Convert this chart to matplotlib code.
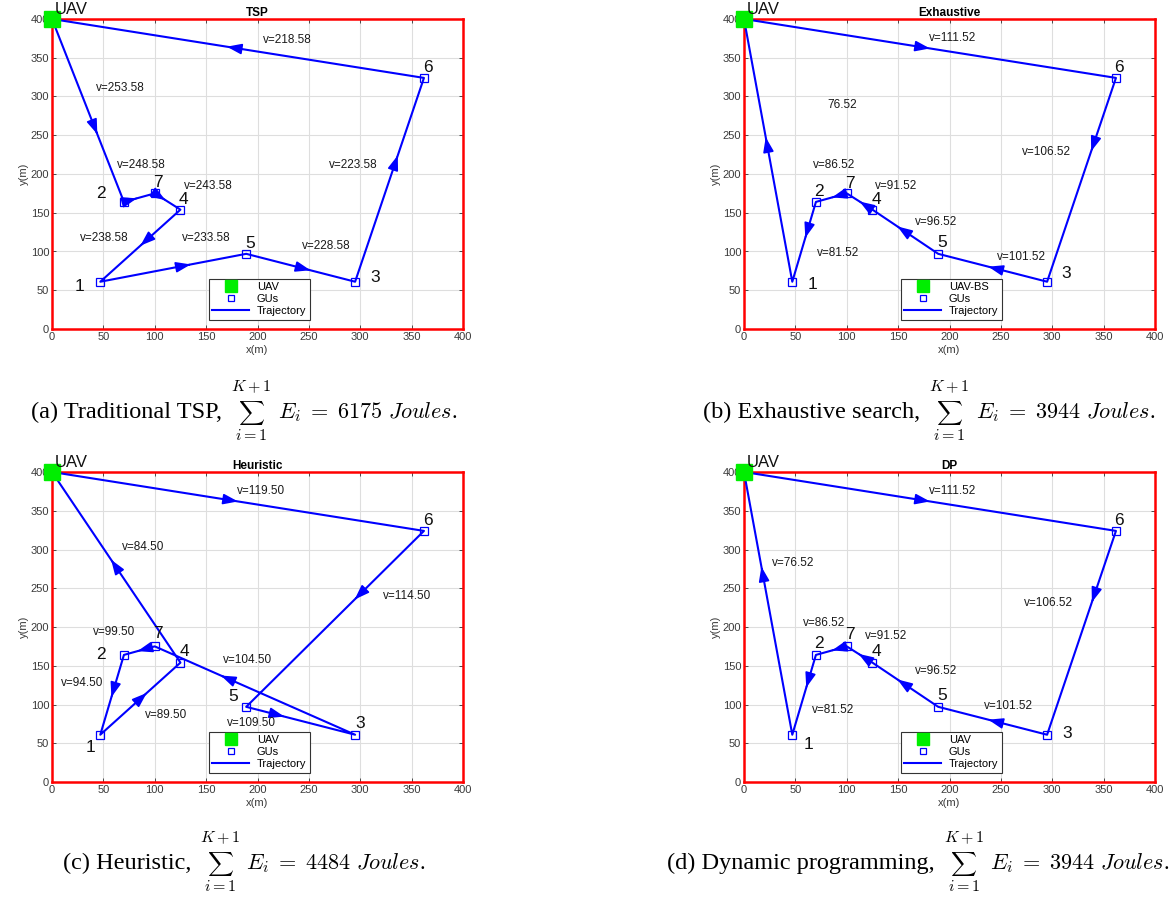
import numpy as np
import matplotlib
matplotlib.use("Agg")
import matplotlib.pyplot as plt

plt.rcParams["font.family"] = ["Liberation Sans", "DejaVu Sans"]
plt.rcParams["mathtext.fontset"] = "cm"

# ground users (GU id 1..7) and the UAV start/end point
gu_ids = [1, 2, 3, 4, 5, 6, 7]
gu_x = [47, 70, 295, 125, 189, 362, 100]
gu_y = [61, 164, 61, 154, 97, 324, 175]
uav_x, uav_y = 0, 400

# visiting orders (0 = UAV) and the speed on each leg
titles = ["TSP", "Exhaustive", "Heuristic", "DP"]
routes = [
    [0, 2, 7, 4, 1, 5, 3, 6, 0],
    [0, 6, 3, 5, 4, 7, 2, 1, 0],
    [0, 6, 5, 3, 7, 2, 1, 4, 0],
    [0, 6, 3, 5, 4, 7, 2, 1, 0],
]
speeds = [
    [253.58, 248.58, 243.58, 238.58, 233.58, 228.58, 223.58, 218.58],
    [111.52, 106.52, 101.52, 96.52, 91.52, 86.52, 81.52, 76.52],
    [119.50, 114.50, 109.50, 104.50, 99.50, 94.50, 89.50, 84.50],
    [111.52, 106.52, 101.52, 96.52, 91.52, 86.52, 81.52, 76.52],
]
uav_legend = ["UAV", "UAV-BS", "UAV", "UAV"]
energy = [6175, 3944, 4484, 3944]
methods = ["(a) Traditional TSP", "(b) Exhaustive search", "(c) Heuristic",
           "(d) Dynamic programming"]

# ---- annotation placement (data coordinates) ----
speed_label_pos = [
    [(43, 311), (63, 212), (128, 184), (27, 118), (126, 117), (243, 107), (270, 212), (205, 373)],
    [(180, 376), (271, 229), (246, 93), (166, 138), (127, 185), (67, 212), (71, 98), (81, 289)],
    [(180, 375), (322, 240), (170, 76), (166, 157), (40, 194), (9, 128), (90, 86), (68, 303)],
    [(180, 375), (272, 231), (234, 98), (166, 143), (118, 188), (57, 205), (66, 93), (27, 282)],
]
bare_speed_label = [set(), {7}, set(), set()]
id_label_pos = [
    {1: (27, 55), 2: (48, 175), 3: (315, 67), 4: (128, 167), 5: (193, 110), 6: (366, 337), 7: (103, 189)},
    {1: (67, 57), 2: (73, 177), 3: (314, 71), 4: (129, 167), 5: (193, 111), 6: (365, 337), 7: (103, 188)},
    {1: (37, 45), 2: (48, 165), 3: (300, 75), 4: (129, 168), 5: (176, 110), 6: (366, 338), 7: (103, 191)},
    {1: (63, 48), 2: (73, 179), 3: (315, 63), 4: (129, 168), 5: (193, 112), 6: (365, 338), 7: (103, 190)},
]
arrow_frac = [
    [0.63, 0.42, 0.42, 0.50, 0.62, 0.59, 0.62, 0.53],
    [0.50, 0.36, 0.54, 0.62, 0.50, 0.48, 0.45, 0.55],
    [0.50, 0.39, 0.35, 0.67, 0.56, 0.53, 0.58, 0.54],
    [0.50, 0.35, 0.54, 0.62, 0.54, 0.48, 0.41, 0.64],
]

W, H = 1173, 897
fig = plt.figure(figsize=(W / 100, H / 100), dpi=100)

axes_px = [(52, 19), (744, 19), (52, 472), (744, 472)]  # (left, top) in pixels
ax_w, ax_h = 411, 310
caption_cx = [244, 929, 244, 918]
caption_base = [418, 418, 869, 869]

BLUE = "#0000ff"
SERIF = ["Liberation Serif", "DejaVu Serif"]


def node_xy(n):
    if n == 0:
        return uav_x, uav_y
    i = gu_ids.index(n)
    return gu_x[i], gu_y[i]


def fx(px):
    return px / W


def fy(py):
    return 1 - py / H


def draw_caption(k, renderer):
    """Caption: text, a summation with limits above/below, then the energy."""
    t1 = fig.text(0, 0, methods[k] + ",", fontsize=17.5, family=SERIF,
                  ha="left", va="baseline")
    ts = fig.text(0, 0, r"$\sum$", fontsize=13, ha="center", va="center")
    tu = fig.text(0, 0, r"$K+1$", fontsize=11.5, ha="center", va="center")
    tl = fig.text(0, 0, r"$i=1$", fontsize=11.5, ha="center", va="center")
    t3 = fig.text(0, 0, r"$E_i\;=\;" + f"{energy[k]}" + r"\ Joules$.",
                  fontsize=16, family=SERIF, ha="left", va="baseline")
    wid = [t.get_window_extent(renderer).width for t in (t1, ts, tu, tl, t3)]
    block = max(wid[1:4])
    gap1, gap2 = 9, 6
    total = wid[0] + gap1 + block + gap2 + wid[4]
    x0 = caption_cx[k] - total / 2
    base = caption_base[k]
    xs = x0 + wid[0] + gap1 + block / 2
    t1.set_position((fx(x0), fy(base)))
    ts.set_position((fx(xs), fy(base - 5)))
    tu.set_position((fx(xs), fy(base - 31)))
    tl.set_position((fx(xs), fy(base + 17)))
    t3.set_position((fx(x0 + wid[0] + gap1 + block + gap2), fy(base)))


for k in range(4):
    left, top = axes_px[k]
    ax = fig.add_axes([left / W, 1 - (top + ax_h) / H, ax_w / W, ax_h / H])
    ax.set_xlim(0, 400)
    ax.set_ylim(0, 400)
    ax.set_xticks(np.arange(0, 401, 50))
    ax.set_yticks(np.arange(0, 401, 50))
    ax.grid(True, color="#dedede", lw=0.8)
    ax.set_axisbelow(True)
    for s in ax.spines.values():
        s.set_color("#ff0000")
        s.set_linewidth(1.8)
    ax.tick_params(direction="in", top=True, right=True, length=3, width=0.6,
                   color="#333333", labelsize=8, labelcolor="#3a3a3a", pad=2)
    ax.set_xlabel("x(m)", fontsize=8, color="#3a3a3a", labelpad=2)
    ax.set_ylabel("y(m)", fontsize=8, color="#3a3a3a", labelpad=1)
    ax.set_title(titles[k], fontsize=8.5, fontweight="bold", pad=2)

    # trajectory
    xs = [node_xy(n)[0] for n in routes[k]]
    ys = [node_xy(n)[1] for n in routes[k]]
    traj, = ax.plot(xs, ys, color=BLUE, lw=1.5, zorder=3, label="Trajectory")

    # direction arrows and speed labels
    for j in range(len(routes[k]) - 1):
        x0, y0 = xs[j], ys[j]
        x1, y1 = xs[j + 1], ys[j + 1]
        t = arrow_frac[k][j]
        xa, ya = x0 + t * (x1 - x0), y0 + t * (y1 - y0)
        e = 0.01
        ax.annotate("", xy=(xa, ya), xytext=(xa - e * (x1 - x0), ya - e * (y1 - y0)),
                    arrowprops=dict(arrowstyle="-|>,head_length=0.9,head_width=0.32",
                                    color=BLUE, lw=1.2, shrinkA=0, shrinkB=0,
                                    mutation_scale=10), zorder=4)
        v = speeds[k][j]
        txt = f"{v:.2f}" if j in bare_speed_label[k] else f"v={v:.2f}"
        lx, ly = speed_label_pos[k][j]
        ax.text(lx, ly, txt, fontsize=8.5, ha="left", va="center", color="#1a1a1a", zorder=5)

    # ground users
    gus, = ax.plot(gu_x, gu_y, ls="none", marker="s", ms=6, mfc="none", mec=BLUE,
                   mew=0.9, zorder=5, label="GUs")
    for n, (lx, ly) in id_label_pos[k].items():
        ax.text(lx, ly, str(n), fontsize=12.5, ha="center", va="center", color="#111111", zorder=6)

    # UAV
    uav, = ax.plot([uav_x], [uav_y], ls="none", marker="s", ms=11, color="#00ee00",
                   mec="#00ee00", zorder=7, clip_on=False, label=uav_legend[k])
    ax.text(3, 412, "UAV", fontsize=12, ha="left", va="center", color="#111111",
            clip_on=False, zorder=8)

    leg = ax.legend(handles=[uav, gus, traj], loc="lower left",
                    bbox_to_anchor=(0.382, 0.03), borderaxespad=0, fontsize=8,
                    fancybox=False, edgecolor="#333333", framealpha=1,
                    handlelength=3.3, handletextpad=0.7, borderpad=0.3,
                    labelspacing=0.2, markerscale=0.75)
    leg.get_frame().set_linewidth(0.8)
    leg.set_zorder(10)

renderer = fig.canvas.get_renderer()
for k in range(4):
    draw_caption(k, renderer)

fig.savefig("out.png", dpi=100)
